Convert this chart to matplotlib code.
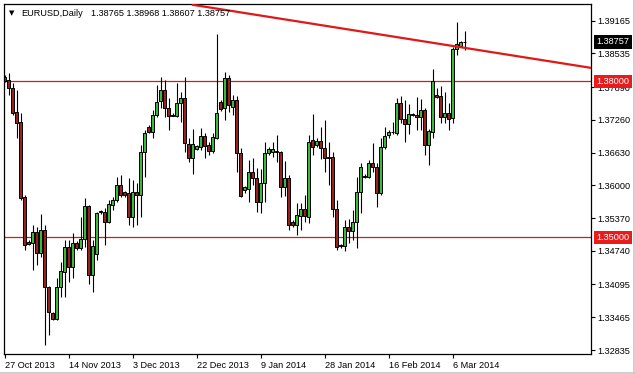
import matplotlib
matplotlib.use('Agg')
import matplotlib.pyplot as plt
from matplotlib.lines import Line2D

plt.rcParams['font.family'] = ['Liberation Sans', 'DejaVu Sans']

# EURUSD daily candles (27 Oct 2013 - 10 Mar 2014), one entry per bar
opens = [1.3808, 1.3803, 1.3787, 1.3741, 1.3722, 1.3578, 1.3491, 1.3489, 1.3510, 1.3470,
         1.3514, 1.3405, 1.3355, 1.3343, 1.3405, 1.3433, 1.3482, 1.3443, 1.3489, 1.3480,
         1.3497, 1.3560, 1.3428, 1.3468, 1.3549, 1.3549, 1.3530, 1.3562, 1.3572, 1.3601,
         1.3587, 1.3585, 1.3539, 1.3587, 1.3581, 1.3664, 1.3712, 1.3703, 1.3735, 1.3762,
         1.3783, 1.3749, 1.3735, 1.3733, 1.3758, 1.3768, 1.3679, 1.3653, 1.3670, 1.3674,
         1.3695, 1.3678, 1.3666, 1.3691, 1.3760, 1.3749, 1.3806, 1.3751, 1.3764, 1.3662,
         1.3591, 1.3593, 1.3626, 1.3614, 1.3568, 1.3605, 1.3662, 1.3664, 1.3666, 1.3664,
         1.3597, 1.3614, 1.3530, 1.3524, 1.3541, 1.3555, 1.3539, 1.3687, 1.3678, 1.3685,
         1.3672, 1.3655, 1.3655, 1.3555, 1.3485, 1.3483, 1.3520, 1.3512, 1.3530, 1.3587,
         1.3618, 1.3616, 1.3643, 1.3635, 1.3585, 1.3674, 1.3697, 1.3703, 1.3701, 1.3758,
         1.3728, 1.3718, 1.3737, 1.3735, 1.3731, 1.3745, 1.3678, 1.3703, 1.3774, 1.3772,
         1.3731, 1.3739, 1.3730, 1.3862, 1.3868, 1.38765]
highs = [1.3812, 1.3816, 1.3797, 1.3783, 1.3739, 1.3581, 1.3495, 1.3524, 1.3520, 1.3545,
         1.3524, 1.3407, 1.3357, 1.3422, 1.3453, 1.3495, 1.3495, 1.3508, 1.3493, 1.3539,
         1.3576, 1.3562, 1.3495, 1.3549, 1.3553, 1.3556, 1.3572, 1.3578, 1.3616, 1.3620,
         1.3589, 1.3614, 1.3610, 1.3605, 1.3678, 1.3706, 1.3716, 1.3745, 1.3793, 1.3808,
         1.3803, 1.3768, 1.3739, 1.3797, 1.3779, 1.3808, 1.3691, 1.3708, 1.3678, 1.3710,
         1.3701, 1.3683, 1.3701, 1.3891, 1.3764, 1.3818, 1.3812, 1.3774, 1.3772, 1.3672,
         1.3599, 1.3649, 1.3653, 1.3633, 1.3632, 1.3683, 1.3674, 1.3683, 1.3697, 1.3666,
         1.3647, 1.3620, 1.3533, 1.3566, 1.3566, 1.3581, 1.3697, 1.3737, 1.3691, 1.3712,
         1.3726, 1.3683, 1.3664, 1.3572, 1.3487, 1.3533, 1.3535, 1.3553, 1.3616, 1.3643,
         1.3622, 1.3649, 1.3681, 1.3643, 1.3691, 1.3712, 1.3706, 1.3722, 1.3768, 1.3772,
         1.3764, 1.3756, 1.3739, 1.3770, 1.3766, 1.3749, 1.3708, 1.3824, 1.3787, 1.3791,
         1.3779, 1.3758, 1.3866, 1.3914, 1.3877, 1.38968]
lows = [1.3799, 1.3774, 1.3735, 1.3691, 1.3572, 1.3476, 1.3485, 1.3437, 1.3447, 1.3463,
        1.3293, 1.3312, 1.3341, 1.3341, 1.3385, 1.3385, 1.3414, 1.3422, 1.3476, 1.3476,
        1.3482, 1.3411, 1.3395, 1.3457, 1.3545, 1.3485, 1.3528, 1.3553, 1.3568, 1.3578,
        1.3578, 1.3524, 1.3520, 1.3524, 1.3539, 1.3616, 1.3701, 1.3691, 1.3731, 1.3749,
        1.3731, 1.3706, 1.3733, 1.3731, 1.3722, 1.3664, 1.3645, 1.3622, 1.3668, 1.3668,
        1.3653, 1.3658, 1.3662, 1.3689, 1.3743, 1.3726, 1.3741, 1.3735, 1.3626, 1.3578,
        1.3585, 1.3568, 1.3601, 1.3549, 1.3547, 1.3568, 1.3658, 1.3655, 1.3645, 1.3578,
        1.3580, 1.3514, 1.3520, 1.3505, 1.3514, 1.3530, 1.3528, 1.3658, 1.3674, 1.3651,
        1.3626, 1.3601, 1.3539, 1.3476, 1.3480, 1.3474, 1.3489, 1.3495, 1.3480, 1.3547,
        1.3614, 1.3614, 1.3626, 1.3558, 1.3581, 1.3670, 1.3691, 1.3699, 1.3697, 1.3720,
        1.3683, 1.3699, 1.3733, 1.3706, 1.3706, 1.3658, 1.3639, 1.3691, 1.3768, 1.3720,
        1.3720, 1.3706, 1.3720, 1.3851, 1.3866, 1.38607]
closes = [1.3801, 1.3787, 1.3739, 1.3720, 1.3576, 1.3485, 1.3487, 1.3510, 1.3470, 1.3514,
          1.3405, 1.3357, 1.3343, 1.3405, 1.3435, 1.3482, 1.3443, 1.3489, 1.3480, 1.3497,
          1.3560, 1.3428, 1.3483, 1.3547, 1.3551, 1.3530, 1.3564, 1.3572, 1.3601, 1.3581,
          1.3581, 1.3539, 1.3587, 1.3581, 1.3664, 1.3701, 1.3703, 1.3735, 1.3760, 1.3783,
          1.3749, 1.3733, 1.3734, 1.3758, 1.3768, 1.3681, 1.3653, 1.3679, 1.3676, 1.3695,
          1.3676, 1.3666, 1.3693, 1.3739, 1.3747, 1.3806, 1.3754, 1.3764, 1.3662, 1.3580,
          1.3597, 1.3626, 1.3614, 1.3568, 1.3605, 1.3662, 1.3670, 1.3670, 1.3664, 1.3597,
          1.3614, 1.3524, 1.3524, 1.3543, 1.3555, 1.3541, 1.3683, 1.3674, 1.3685, 1.3672,
          1.3653, 1.3653, 1.3555, 1.3482, 1.3483, 1.3520, 1.3512, 1.3530, 1.3587, 1.3635,
          1.3616, 1.3643, 1.3635, 1.3585, 1.3674, 1.3695, 1.3703, 1.3702, 1.3758, 1.3728,
          1.3718, 1.3737, 1.3735, 1.3731, 1.3745, 1.3678, 1.3704, 1.3801, 1.3770, 1.3731,
          1.3739, 1.3728, 1.3862, 1.3872, 1.3876, 1.38757]

date_labels = ['27 Oct 2013', '14 Nov 2013', '3 Dec 2013', '22 Dec 2013',
               '9 Jan 2014', '28 Jan 2014', '16 Feb 2014', '6 Mar 2014']
price_ticks = [1.39165, 1.38535, 1.37890, 1.37260, 1.36630, 1.36000,
               1.35370, 1.34740, 1.34095, 1.33465, 1.32835]
levels = [1.38000, 1.35000]
trend_x = [47, 146.4]
trend_y = [1.3947, 1.3826]
last_price = 1.38757

n = len(opens)
xs = list(range(n))

fig = plt.figure(figsize=(6.35, 3.74), dpi=100)
ax = fig.add_axes([4 / 635, 20 / 374, 586.5 / 635, 350 / 374])

# wicks then bodies
ax.vlines(xs, lows, highs, color='black', linewidth=0.8, zorder=2)
bottoms = [min(o, c) for o, c in zip(opens, closes)]
heights = [max(abs(c - o), 0.000001) for o, c in zip(opens, closes)]
colors = ['#3cb83c' if c >= o else '#9a1f1f' for o, c in zip(opens, closes)]
ax.bar(xs, heights, bottom=bottoms, width=0.75, color=colors,
       edgecolor='black', linewidth=0.7, zorder=3)

# support / resistance lines and trendline
for lv in levels:
    ax.axhline(lv, color='#d41a1a', linewidth=0.9, zorder=1)
ax.plot(trend_x, trend_y, color='#e01818', linewidth=1.6, zorder=4, clip_on=True)

ax.set_xlim(-0.25, 146.4)
ax.set_ylim(1.32759, 1.39486)

ax.yaxis.tick_right()
ax.set_yticks(price_ticks)
ax.set_yticklabels(['%.5f' % p for p in price_ticks])
ax.set_xticks(range(0, n, 16))
ax.set_xticklabels(date_labels, ha='left')
ax.tick_params(axis='both', length=3, width=0.8, labelsize=6.6, pad=2, colors='black')
for s in ax.spines.values():
    s.set_linewidth(0.9)
    s.set_color('black')

# price boxes on the right scale
trans = ax.get_yaxis_transform()
for lv in levels:
    ax.annotate('%.5f' % lv, xy=(1.0, lv), xycoords=trans, xytext=(6, 0),
                textcoords='offset pixels', ha='left', va='center', fontsize=6.6,
                color='white', zorder=10, annotation_clip=False,
                bbox=dict(boxstyle='square,pad=0.25', fc='#e81c1c', ec='none'))
ax.annotate('%.5f' % last_price, xy=(1.0, last_price), xycoords=trans, xytext=(6, 0),
            textcoords='offset pixels', ha='left', va='center', fontsize=6.6,
            color='white', zorder=10, annotation_clip=False,
            bbox=dict(boxstyle='square,pad=0.25', fc='black', ec='none'))

# header
fig.text(12 / 635, 1 - 13 / 374, '\u25bc', fontsize=5, family=['DejaVu Sans'],
         ha='center', va='center')
fig.text(21 / 635, 1 - 13 / 374, 'EURUSD,Daily', fontsize=6.6, va='center')
fig.text(91 / 635, 1 - 13 / 374, '%.5f %.5f %.5f %.5f' % (opens[-1], highs[-1], lows[-1], closes[-1]),
         fontsize=6.6, va='center')

# window frame
fig.add_artist(Line2D([633.5 / 635, 633.5 / 635], [0, 1], color='#c8c8c8', lw=1.2))
fig.add_artist(Line2D([0, 1], [1.5 / 374, 1.5 / 374], color='#c8c8c8', lw=1.2))

fig.savefig('out.png', dpi=100)
